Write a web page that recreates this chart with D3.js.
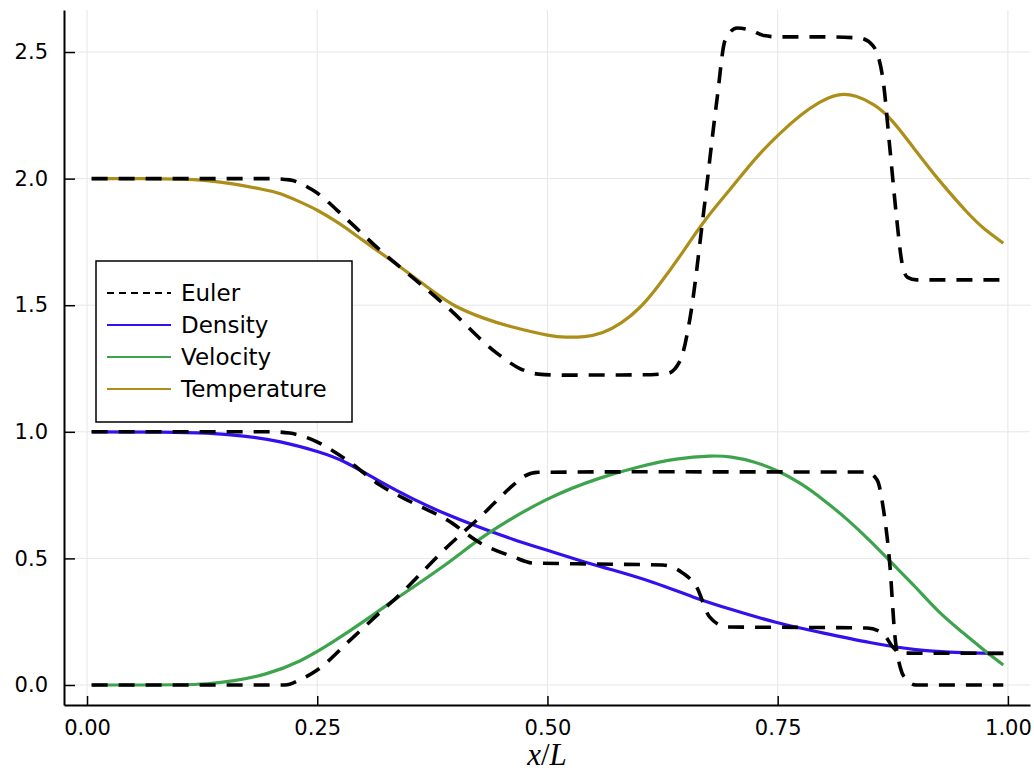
<!DOCTYPE html>
<html>
<head>
<meta charset="utf-8">
<script src="https://cdn.jsdelivr.net/npm/d3@7"></script>
<style>
  body { margin: 0; background: #fff; }
  svg { display: block; }
  .tick text { font-family: "DejaVu Sans", sans-serif; font-size: 21px; fill: #000; }
</style>
</head>
<body>
<svg id="chart" width="1034" height="773"></svg>
<script>
// values, x in units of x/L
const xTicks = [0, 0.25, 0.5, 0.75, 1.0]
const yTicks = [0, 0.5, 1.0, 1.5, 2.0, 2.5]

const density = [
  [0.005, 1.0], [0.08, 0.999], [0.13, 0.995], [0.17, 0.983], [0.21, 0.96], [0.25, 0.922],
  [0.282, 0.877], [0.32, 0.80], [0.354, 0.735], [0.39, 0.675], [0.427, 0.622], [0.463, 0.575],
  [0.499, 0.533], [0.535, 0.492], [0.571, 0.454], [0.615, 0.405], [0.658, 0.348], [0.7, 0.298],
  [0.749, 0.247], [0.8, 0.205], [0.85, 0.168], [0.9, 0.14], [0.95, 0.128], [0.995, 0.125]
]

const velocity = [
  [0.005, 0], [0.06, 0], [0.1, 0.001], [0.13, 0.005], [0.16, 0.017], [0.195, 0.045],
  [0.231, 0.095], [0.267, 0.17], [0.304, 0.26], [0.337, 0.344], [0.391, 0.48], [0.434, 0.595],
  [0.499, 0.732], [0.557, 0.817], [0.6, 0.862], [0.64, 0.892], [0.676, 0.904], [0.7, 0.9],
  [0.725, 0.88], [0.75, 0.845], [0.775, 0.795], [0.8, 0.73], [0.825, 0.655], [0.85, 0.57],
  [0.875, 0.478], [0.9, 0.385], [0.925, 0.29], [0.95, 0.21], [0.975, 0.135], [0.995, 0.079]
]

const temperature = [
  [0.005, 2.0], [0.06, 2.0], [0.1, 1.998], [0.13, 1.992], [0.16, 1.978], [0.19, 1.958],
  [0.21, 1.94], [0.23, 1.91], [0.25, 1.875], [0.275, 1.82], [0.3, 1.755], [0.336, 1.662],
  [0.372, 1.565], [0.4, 1.497], [0.43, 1.45], [0.46, 1.416], [0.5, 1.382], [0.52, 1.374],
  [0.54, 1.376], [0.56, 1.392], [0.58, 1.43], [0.6, 1.49], [0.62, 1.575], [0.645, 1.70],
  [0.67, 1.83], [0.7, 1.965], [0.725, 2.075], [0.75, 2.17], [0.775, 2.25], [0.795, 2.30],
  [0.815, 2.33], [0.835, 2.325], [0.855, 2.29], [0.875, 2.225], [0.9, 2.11], [0.925, 1.995],
  [0.955, 1.87], [0.975, 1.8], [0.995, 1.745]
]

const eulerDensity = [
  [0.005, 1.0], [0.2, 1.0], [0.22, 0.995], [0.245, 0.968], [0.282, 0.889], [0.318, 0.79],
  [0.354, 0.719], [0.391, 0.652], [0.427, 0.561], [0.463, 0.506], [0.484, 0.482], [0.55, 0.478],
  [0.625, 0.474], [0.647, 0.442], [0.662, 0.387], [0.676, 0.269], [0.695, 0.229], [0.75, 0.228],
  [0.847, 0.225], [0.864, 0.205], [0.875, 0.15], [0.883, 0.126], [0.995, 0.125]
]

const eulerVelocity = [
  [0.005, 0], [0.215, 0], [0.231, 0.02], [0.25, 0.059], [0.286, 0.178], [0.321, 0.296],
  [0.337, 0.348], [0.391, 0.545], [0.427, 0.664], [0.463, 0.79], [0.475, 0.825], [0.49, 0.84],
  [0.6, 0.842], [0.847, 0.841], [0.858, 0.81], [0.865, 0.69], [0.872, 0.466], [0.877, 0.205],
  [0.883, 0.071], [0.89, 0.02], [0.9, 0], [0.995, 0]
]

const eulerTemperature = [
  [0.005, 2.0], [0.2, 2.0], [0.22, 1.995], [0.245, 1.955], [0.282, 1.84], [0.318, 1.718],
  [0.355, 1.605], [0.391, 1.493], [0.445, 1.311], [0.47, 1.25], [0.49, 1.228], [0.517, 1.224],
  [0.6, 1.225], [0.63, 1.23], [0.644, 1.28], [0.655, 1.453], [0.669, 1.85], [0.684, 2.31],
  [0.693, 2.547], [0.706, 2.595], [0.72, 2.587], [0.735, 2.565], [0.75, 2.56], [0.8, 2.56],
  [0.839, 2.555], [0.853, 2.527], [0.864, 2.40], [0.872, 2.113], [0.879, 1.85], [0.885, 1.667],
  [0.891, 1.61], [0.901, 1.60], [0.995, 1.60]
]

const legendLabels = ["Euler", "Density", "Velocity", "Temperature"]

var svg = d3.select("#chart")

var margin = {top: 10, right: 4, bottom: 68, left: 64},
  width = 1034 - margin.left - margin.right,
  height = 773 - margin.top - margin.bottom

var xScale = d3.scaleLinear().domain([-0.025, 1.024]).range([0, width])
var yScale = d3.scaleLinear().domain([-0.079, 2.666]).range([height, 0])

var g = svg.append("g")
  .attr("transform", "translate(" + margin.left + "," + margin.top + ")")

// grid
g.selectAll(".gx").data(xTicks).enter().append("line")
  .attr("x1", d => xScale(d)).attr("x2", d => xScale(d))
  .attr("y1", 0).attr("y2", height)
  .style("stroke", "#e6e6e6").style("stroke-width", 1)
g.selectAll(".gy").data(yTicks).enter().append("line")
  .attr("y1", d => yScale(d)).attr("y2", d => yScale(d))
  .attr("x1", 0).attr("x2", width)
  .style("stroke", "#e6e6e6").style("stroke-width", 1)

// smooth model curves, monotone for the sharp euler profiles
var smoothLine = d3.line()
  .x(d => xScale(d[0]))
  .y(d => yScale(d[1]))
  .curve(d3.curveNatural)

var eulerLine = d3.line()
  .x(d => xScale(d[0]))
  .y(d => yScale(d[1]))
  .curve(d3.curveMonotoneX)

var solids = [
  {data: density, color: "#3311ee"},
  {data: velocity, color: "#3da44d"},
  {data: temperature, color: "#ac8e18"}
]
solids.forEach(s => {
  g.append("path").datum(s.data)
    .attr("d", smoothLine)
    .style("fill", "none")
    .style("stroke", s.color)
    .style("stroke-width", 3.2)
})

// euler solution on top
;[eulerDensity, eulerVelocity, eulerTemperature].forEach(e => {
  g.append("path").datum(e)
    .attr("d", eulerLine)
    .style("fill", "none")
    .style("stroke", "#000")
    .style("stroke-width", 3.6)
    .style("stroke-dasharray", "16,11")
})

// axes
var xAxis = d3.axisBottom(xScale).tickValues(xTicks).tickFormat(d3.format(".2f"))
  .tickSizeInner(-9).tickSizeOuter(0).tickPadding(15)
var yAxis = d3.axisLeft(yScale).tickValues(yTicks).tickFormat(d3.format(".1f"))
  .tickSizeInner(-11).tickSizeOuter(0).tickPadding(16)

var gx = g.append("g")
  .attr("transform", "translate(0," + height + ")")
  .call(xAxis)
var gy = g.append("g").call(yAxis)

;[gx, gy].forEach(a => {
  a.select(".domain").style("stroke", "#000").style("stroke-width", 2)
  a.selectAll(".tick line").style("stroke", "#000").style("stroke-width", 1.5)
})

// x-axis label
var xl = svg.append("text")
  .attr("x", 547)
  .attr("y", 765)
  .style("text-anchor", "middle")
  .style("font-family", "'Liberation Serif', 'DejaVu Serif', serif")
  .style("font-size", "31px")
xl.append("tspan").style("font-style", "italic").text("x")
xl.append("tspan").text("/")
xl.append("tspan").style("font-style", "italic").text("L")

// legend
var legend = svg.append("g").attr("transform", "translate(96,261)")
legend.append("rect")
  .attr("width", 256).attr("height", 161)
  .style("fill", "#fff").style("stroke", "#000").style("stroke-width", 1.5)

var legendColors = ["#000", "#3311ee", "#3da44d", "#ac8e18"]
var rows = legend.selectAll(".row").data(legendLabels).enter().append("g")
  .attr("transform", (d, i) => "translate(0," + (32 + i * 32) + ")")
rows.append("line")
  .attr("x1", 11).attr("x2", 75)
  .style("stroke", (d, i) => legendColors[i])
  .style("stroke-width", 1.8)
  .style("stroke-dasharray", (d, i) => i === 0 ? "7,5" : null)
rows.append("text")
  .attr("x", 85).attr("dy", "0.36em")
  .style("font-family", "'DejaVu Sans', sans-serif")
  .style("font-size", "23px")
  .text(d => d)
</script>
</body>
</html>
